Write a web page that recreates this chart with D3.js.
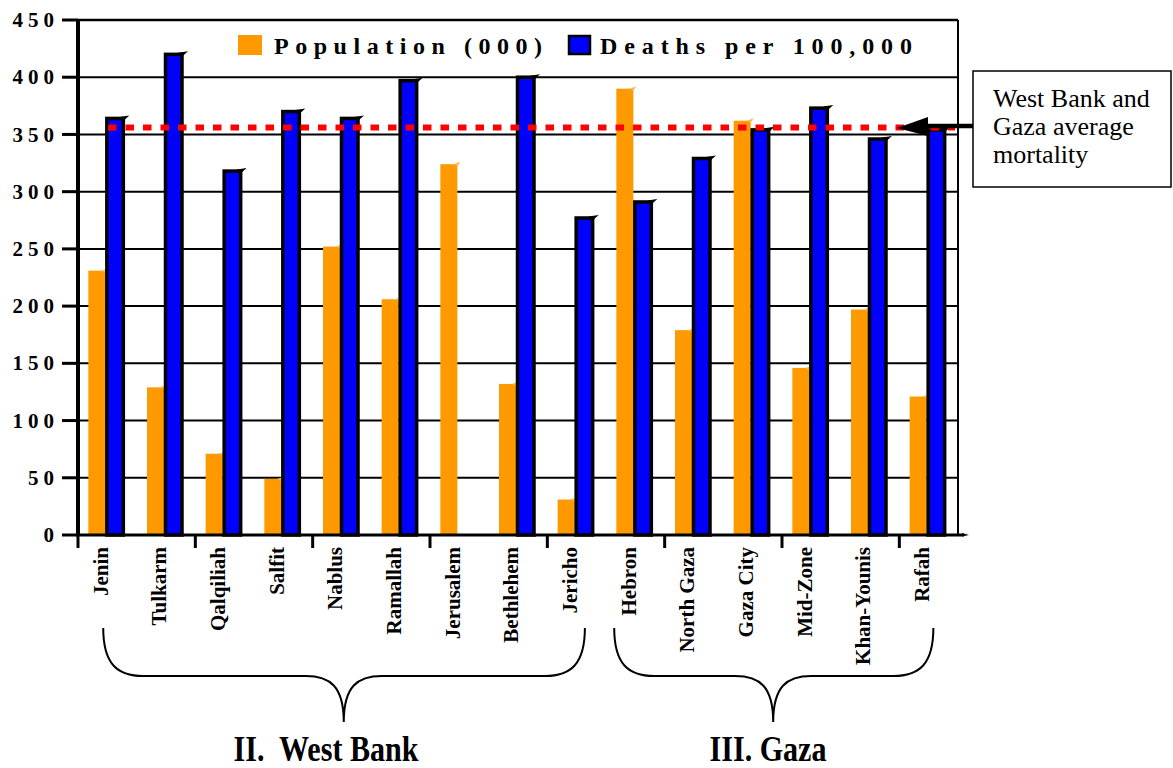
<!DOCTYPE html>
<html>
<head>
<meta charset="utf-8">
<script src="https://cdn.jsdelivr.net/npm/d3@7"></script>
<style>
  body { margin: 0; background: #fff; }
  text { font-family: "Liberation Serif", "Times New Roman", serif; }
</style>
</head>
<body>
<svg id="chart" width="1173" height="768"></svg>
<script>
// District names, in the order they appear along the axis
const districts = ["Jenin", "Tulkarm", "Qalqiliah", "Salfit", "Nablus", "Ramallah",
  "Jerusalem", "Bethlehem", "Jericho", "Hebron", "North Gaza", "Gaza City",
  "Mid-Zone", "Khan-Younis", "Rafah"];

// Population in thousands
const population = [231, 129, 71, 49, 252, 206, 324, 132, 31, 390, 179, 362, 146, 197, 121];

// Deaths per 100,000 (no figure for Jerusalem)
const deaths = [364, 420, 318, 370, 364, 397, null, 400, 277, 291, 329, 354, 373, 346, 354];

// Average mortality for West Bank and Gaza combined
const averageMortality = 356;

const yTicks = [0, 50, 100, 150, 200, 250, 300, 350, 400, 450];
const legendLabels = ["Population (000)", "Deaths per 100,000"];
const noteLines = ["West Bank and", "Gaza average", "mortality"];

// Regions grouped under braces
const regions = [
  { name: "II.  West Bank", first: "Jenin", last: "Jericho" },
  { name: "III. Gaza", first: "Hebron", last: "Rafah" }
];

const ORANGE = "#FF9900";
const BLUE = "#0000FF";
const SERIF = "Liberation Serif, Times New Roman, serif";

const svg = d3.select("#chart");
const plot = { left: 78, right: 958, top: 20, bottom: 535 };

const x = d3.scaleBand().domain(districts).range([plot.left, plot.right]);
const y = d3.scaleLinear().domain([0, 450]).range([plot.bottom, plot.top]);
const bw = x.bandwidth();

// Horizontal gridlines (the top one forms the frame)
svg.append("g").selectAll("line").data(yTicks.filter(d => d > 0)).join("line")
  .attr("x1", plot.left).attr("x2", plot.right)
  .attr("y1", d => y(d)).attr("y2", d => y(d))
  .attr("stroke", "#000").attr("stroke-width", d => d === 450 ? 2.5 : 2);

// Right frame edge
svg.append("line")
  .attr("x1", plot.right).attr("x2", plot.right)
  .attr("y1", plot.top).attr("y2", plot.bottom)
  .attr("stroke", "#000").attr("stroke-width", 2);

// Population bars
const popG = svg.append("g");
districts.forEach((d, i) => {
  const c = x(d) + bw / 2;
  const top = y(population[i]);
  popG.append("rect")
    .attr("x", c - 19).attr("y", top)
    .attr("width", 17).attr("height", y(0) - top)
    .attr("fill", ORANGE);
  popG.append("path")
    .attr("d", `M${c - 6},${top} L${c + 1},${top - 2.5} L${c - 2},${top + 2} Z`)
    .attr("fill", "#FFB84D");
});

// Death-rate bars with heavy outline
const deathG = svg.append("g");
districts.forEach((d, i) => {
  if (deaths[i] == null) return;
  const c = x(d) + bw / 2;
  const top = y(deaths[i]);
  deathG.append("rect")
    .attr("x", c - 0.5).attr("y", top)
    .attr("width", 16.5).attr("height", y(0) - top)
    .attr("fill", BLUE).attr("stroke", "#000").attr("stroke-width", 3.5);
  deathG.append("path")
    .attr("d", `M${c + 12},${top - 1.5} L${c + 22},${top - 3} L${c + 17},${top + 1.5} Z`)
    .attr("fill", "#000");
});

// Y axis line, ticks and labels
svg.append("line")
  .attr("x1", plot.left).attr("x2", plot.left)
  .attr("y1", plot.top - 1).attr("y2", plot.bottom + 1)
  .attr("stroke", "#000").attr("stroke-width", 4);

const yAxis = svg.append("g");
yAxis.selectAll("line").data(yTicks).join("line")
  .attr("x1", 62).attr("x2", plot.left)
  .attr("y1", d => y(d)).attr("y2", d => y(d))
  .attr("stroke", "#000").attr("stroke-width", 3);
yAxis.selectAll("text").data(yTicks).join("text")
  .attr("x", 54).attr("y", d => y(d)).attr("dy", "0.34em")
  .attr("text-anchor", "end")
  .attr("font-family", SERIF)
  .attr("font-size", 21).attr("font-weight", "bold")
  .attr("textLength", d => { const n = String(d).length; return n * 10.5 + (n - 1) * 5; })
  .attr("lengthAdjust", "spacing")
  .text(d => d);

// X axis line with a small pointer at its end
svg.append("line")
  .attr("x1", plot.left - 2).attr("x2", plot.right + 6)
  .attr("y1", plot.bottom).attr("y2", plot.bottom)
  .attr("stroke", "#000").attr("stroke-width", 3);
svg.append("path")
  .attr("d", `M${plot.right + 4},${plot.bottom - 2} L${plot.right + 11},${plot.bottom} L${plot.right + 4},${plot.bottom + 1.5} Z`)
  .attr("fill", "#000");

// X ticks every second category boundary
svg.append("g").selectAll("line")
  .data(districts.filter((d, i) => i % 2 === 0)).join("line")
  .attr("x1", d => x(d)).attr("x2", d => x(d))
  .attr("y1", plot.bottom).attr("y2", plot.bottom + 13)
  .attr("stroke", "#000").attr("stroke-width", 3);

// Rotated category labels
svg.append("g").selectAll("text").data(districts).join("text")
  .attr("transform", d => `translate(${x(d) + bw / 2 - 7},${plot.bottom + 12}) rotate(-90)`)
  .attr("dy", "0.35em")
  .attr("text-anchor", "end")
  .attr("font-family", SERIF)
  .attr("font-size", 21).attr("font-weight", "bold")
  .style("white-space", "pre")
  .text(d => d);

// Average mortality reference line
svg.append("line")
  .attr("x1", 108).attr("x2", 955)
  .attr("y1", y(averageMortality)).attr("y2", y(averageMortality))
  .attr("stroke", "#FF0000").attr("stroke-width", 6)
  .attr("stroke-dasharray", "8.5 9");

// Legend
const legend = svg.append("g");
legend.append("rect").attr("x", 238).attr("y", 35).attr("width", 24).attr("height", 20).attr("fill", ORANGE);
legend.append("text").attr("x", 274).attr("y", 54)
  .attr("font-family", SERIF)
  .attr("font-size", 24).attr("font-weight", "bold")
  .attr("textLength", 268).attr("lengthAdjust", "spacing")
  .text(legendLabels[0]);
legend.append("rect").attr("x", 569).attr("y", 36).attr("width", 21).attr("height", 18)
  .attr("fill", BLUE).attr("stroke", "#000").attr("stroke-width", 2.5);
legend.append("text").attr("x", 600).attr("y", 54)
  .attr("font-family", SERIF)
  .attr("font-size", 24).attr("font-weight", "bold")
  .attr("textLength", 312).attr("lengthAdjust", "spacing")
  .text(legendLabels[1]);

// Annotation box with arrow pointing at the average line
const note = svg.append("g");
note.append("rect").attr("x", 973).attr("y", 71).attr("width", 198).attr("height", 116)
  .attr("fill", "#fff").attr("stroke", "#000").attr("stroke-width", 1.5);
note.selectAll("text").data(noteLines).join("text")
  .attr("x", 993).attr("y", (d, i) => 107 + i * 28)
  .attr("font-family", SERIF)
  .attr("font-size", 26)
  .text(d => d);
note.append("line").attr("x1", 973).attr("x2", 922)
  .attr("y1", 126).attr("y2", 126)
  .attr("stroke", "#000").attr("stroke-width", 4.5);
note.append("path").attr("d", "M897,128 L928,117 L928,136 Z").attr("fill", "#000");

// Region braces and titles
const braceLayout = {
  "II.  West Bank": { left: 0.43, tip: 4.53, right: 8.64, label: 326 },
  "III. Gaza": { left: 9.14, tip: 11.85, right: 14.58, label: 768 }
};
const bx = u => plot.left + u * bw;
const braceG = svg.append("g");
regions.forEach(r => {
  const L = bx(braceLayout[r.name].left);
  const R = bx(braceLayout[r.name].right);
  const T = bx(braceLayout[r.name].tip);
  const y0 = 628, yh = 676, yt = 722;
  const path = `M${L},${y0} C${L},${yh - 12} ${L + 14},${yh} ${L + 40},${yh}`
    + ` L${T - 38},${yh} C${T - 14},${yh} ${T},${yh + 10} ${T},${yt}`
    + ` C${T},${yh + 10} ${T + 14},${yh} ${T + 38},${yh}`
    + ` L${R - 40},${yh} C${R - 14},${yh} ${R},${yh - 12} ${R},${y0}`;
  braceG.append("path").attr("d", path)
    .attr("fill", "none").attr("stroke", "#000").attr("stroke-width", 2);
  braceG.append("text")
    .attr("transform", `translate(${braceLayout[r.name].label},761) scale(0.86,1)`)
    .attr("text-anchor", "middle")
    .attr("font-family", SERIF)
    .attr("font-size", 35).attr("font-weight", "bold")
    .style("white-space", "pre")
    .text(r.name);
});
</script>
</body>
</html>
